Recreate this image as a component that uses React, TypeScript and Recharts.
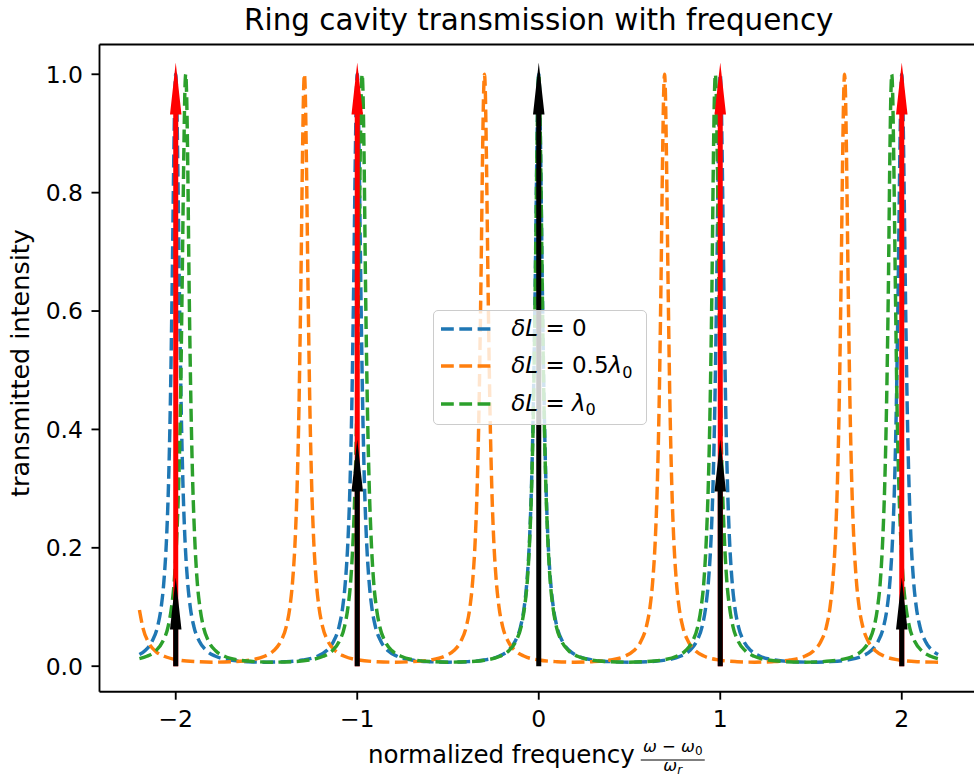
import {
  LineChart,
  Line,
  XAxis,
  YAxis,
  Legend,
  ReferenceLine,
} from "recharts";

type Pt = [number, number];

// delta L = 0  (peaks on the integers)
const shiftZero: Pt[] = [
  [-2.2, 0.0196], [-2.17, 0.026], [-2.13, 0.042], [-2.1, 0.067], [-2.08, 0.1], [-2.065, 0.144], [-2.05, 0.22], [-2.04, 0.305], [-2.03, 0.438], [-2.02, 0.636], [-2.01, 0.875], [-2.005, 0.966], [-2, 1],
  [-1.995, 0.966], [-1.99, 0.875], [-1.98, 0.636], [-1.97, 0.438], [-1.96, 0.305], [-1.95, 0.22], [-1.935, 0.144], [-1.92, 0.1], [-1.9, 0.067], [-1.87, 0.042], [-1.83, 0.026], [-1.78, 0.0167], [-1.7, 0.0104], [-1.6, 0.0076], [-1.5, 0.0068],
  [-1.4, 0.0076], [-1.3, 0.0104], [-1.22, 0.0167], [-1.17, 0.026], [-1.13, 0.042], [-1.1, 0.067], [-1.08, 0.1], [-1.065, 0.144], [-1.05, 0.22], [-1.04, 0.305], [-1.03, 0.438], [-1.02, 0.636], [-1.01, 0.875], [-1.005, 0.966], [-1, 1],
  [-0.995, 0.966], [-0.99, 0.875], [-0.98, 0.636], [-0.97, 0.438], [-0.96, 0.305], [-0.95, 0.22], [-0.935, 0.144], [-0.92, 0.1], [-0.9, 0.067], [-0.87, 0.042], [-0.83, 0.026], [-0.78, 0.0167], [-0.7, 0.0104], [-0.6, 0.0076], [-0.5, 0.0068],
  [-0.4, 0.0076], [-0.3, 0.0104], [-0.22, 0.0167], [-0.17, 0.026], [-0.13, 0.042], [-0.1, 0.067], [-0.08, 0.1], [-0.065, 0.144], [-0.05, 0.22], [-0.04, 0.305], [-0.03, 0.438], [-0.02, 0.636], [-0.01, 0.875], [-0.005, 0.966], [0, 1],
  [0.005, 0.966], [0.01, 0.875], [0.02, 0.636], [0.03, 0.438], [0.04, 0.305], [0.05, 0.22], [0.065, 0.144], [0.08, 0.1], [0.1, 0.067], [0.13, 0.042], [0.17, 0.026], [0.22, 0.0167], [0.3, 0.0104], [0.4, 0.0076], [0.5, 0.0068],
  [0.6, 0.0076], [0.7, 0.0104], [0.78, 0.0167], [0.83, 0.026], [0.87, 0.042], [0.9, 0.067], [0.92, 0.1], [0.935, 0.144], [0.95, 0.22], [0.96, 0.305], [0.97, 0.438], [0.98, 0.636], [0.99, 0.875], [0.995, 0.966], [1, 1],
  [1.005, 0.966], [1.01, 0.875], [1.02, 0.636], [1.03, 0.438], [1.04, 0.305], [1.05, 0.22], [1.065, 0.144], [1.08, 0.1], [1.1, 0.067], [1.13, 0.042], [1.17, 0.026], [1.22, 0.0167], [1.3, 0.0104], [1.4, 0.0076], [1.5, 0.0068],
  [1.6, 0.0076], [1.7, 0.0104], [1.78, 0.0167], [1.83, 0.026], [1.87, 0.042], [1.9, 0.067], [1.92, 0.1], [1.935, 0.144], [1.95, 0.22], [1.96, 0.305], [1.97, 0.438], [1.98, 0.636], [1.99, 0.875], [1.995, 0.966], [2, 1],
  [2.005, 0.966], [2.01, 0.875], [2.02, 0.636], [2.03, 0.438], [2.04, 0.305], [2.05, 0.22], [2.065, 0.144], [2.08, 0.1], [2.1, 0.067], [2.13, 0.042], [2.17, 0.026], [2.2, 0.0196],
];

// delta L = 0.5 lambda0
const shiftHalf: Pt[] = [
  [-2.2, 0.095], [-2.18, 0.064], [-2.15, 0.04], [-2.11, 0.025], [-2.06, 0.0163], [-1.99, 0.0107], [-1.89, 0.0077], [-1.787, 0.0068],
  [-1.691, 0.0076], [-1.591, 0.0104], [-1.511, 0.0167], [-1.461, 0.026], [-1.421, 0.042], [-1.391, 0.067], [-1.371, 0.1], [-1.356, 0.144], [-1.341, 0.22], [-1.331, 0.305], [-1.321, 0.438], [-1.311, 0.636], [-1.301, 0.875], [-1.296, 0.966], [-1.291, 1],
  [-1.286, 0.966], [-1.281, 0.875], [-1.271, 0.636], [-1.261, 0.438], [-1.251, 0.305], [-1.241, 0.22], [-1.226, 0.144], [-1.211, 0.1], [-1.191, 0.067], [-1.161, 0.042], [-1.121, 0.026], [-1.071, 0.0167], [-0.991, 0.0104], [-0.891, 0.0076], [-0.795, 0.0068],
  [-0.699, 0.0076], [-0.599, 0.0104], [-0.519, 0.0167], [-0.469, 0.026], [-0.429, 0.042], [-0.399, 0.067], [-0.379, 0.1], [-0.364, 0.144], [-0.349, 0.22], [-0.339, 0.305], [-0.329, 0.438], [-0.319, 0.636], [-0.309, 0.875], [-0.304, 0.966], [-0.299, 1],
  [-0.294, 0.966], [-0.289, 0.875], [-0.279, 0.636], [-0.269, 0.438], [-0.259, 0.305], [-0.249, 0.22], [-0.234, 0.144], [-0.219, 0.1], [-0.199, 0.067], [-0.169, 0.042], [-0.129, 0.026], [-0.079, 0.0167], [0.001, 0.0104], [0.101, 0.0076], [0.197, 0.0068],
  [0.293, 0.0076], [0.393, 0.0104], [0.473, 0.0167], [0.523, 0.026], [0.563, 0.042], [0.593, 0.067], [0.613, 0.1], [0.628, 0.144], [0.643, 0.22], [0.653, 0.305], [0.663, 0.438], [0.673, 0.636], [0.683, 0.875], [0.688, 0.966], [0.693, 1],
  [0.698, 0.966], [0.703, 0.875], [0.713, 0.636], [0.723, 0.438], [0.733, 0.305], [0.743, 0.22], [0.758, 0.144], [0.773, 0.1], [0.793, 0.067], [0.823, 0.042], [0.863, 0.026], [0.913, 0.0167], [0.993, 0.0104], [1.093, 0.0076], [1.189, 0.0068],
  [1.285, 0.0076], [1.385, 0.0104], [1.465, 0.0167], [1.515, 0.026], [1.555, 0.042], [1.585, 0.067], [1.605, 0.1], [1.62, 0.144], [1.635, 0.22], [1.645, 0.305], [1.655, 0.438], [1.665, 0.636], [1.675, 0.875], [1.68, 0.966], [1.685, 1],
  [1.69, 0.966], [1.695, 0.875], [1.705, 0.636], [1.715, 0.438], [1.725, 0.305], [1.735, 0.22], [1.75, 0.144], [1.765, 0.1], [1.785, 0.067], [1.815, 0.042], [1.855, 0.026], [1.905, 0.0167], [1.985, 0.0104], [2.085, 0.0076], [2.2, 0.0068],
];

// delta L = lambda0
const shiftFull: Pt[] = [
  [-2.2, 0.0127], [-2.159, 0.0167], [-2.11, 0.026], [-2.071, 0.042], [-2.042, 0.067], [-2.023, 0.1], [-2.008, 0.144], [-1.994, 0.22], [-1.984, 0.305], [-1.974, 0.438], [-1.965, 0.636], [-1.955, 0.875], [-1.95, 0.966], [-1.945, 1],
  [-1.94, 0.966], [-1.935, 0.875], [-1.926, 0.636], [-1.916, 0.438], [-1.906, 0.305], [-1.896, 0.22], [-1.882, 0.144], [-1.867, 0.1], [-1.848, 0.067], [-1.819, 0.042], [-1.78, 0.026], [-1.731, 0.0167], [-1.653, 0.0104], [-1.556, 0.0076], [-1.459, 0.0068],
  [-1.362, 0.0076], [-1.265, 0.0104], [-1.187, 0.0167], [-1.138, 0.026], [-1.099, 0.042], [-1.07, 0.067], [-1.051, 0.1], [-1.036, 0.144], [-1.022, 0.22], [-1.012, 0.305], [-1.002, 0.438], [-0.993, 0.636], [-0.983, 0.875], [-0.978, 0.966], [-0.973, 1],
  [-0.968, 0.966], [-0.963, 0.875], [-0.954, 0.636], [-0.944, 0.438], [-0.934, 0.305], [-0.924, 0.22], [-0.91, 0.144], [-0.895, 0.1], [-0.876, 0.067], [-0.847, 0.042], [-0.808, 0.026], [-0.759, 0.0167], [-0.681, 0.0104], [-0.584, 0.0076], [-0.486, 0.0068],
  [-0.389, 0.0076], [-0.292, 0.0104], [-0.214, 0.0167], [-0.165, 0.026], [-0.126, 0.042], [-0.097, 0.067], [-0.078, 0.1], [-0.063, 0.144], [-0.049, 0.22], [-0.039, 0.305], [-0.029, 0.438], [-0.0195, 0.636], [-0.0097, 0.875], [-0.0049, 0.966], [0, 1],
  [0.0049, 0.966], [0.0097, 0.875], [0.0195, 0.636], [0.029, 0.438], [0.039, 0.305], [0.049, 0.22], [0.063, 0.144], [0.078, 0.1], [0.097, 0.067], [0.126, 0.042], [0.165, 0.026], [0.214, 0.0167], [0.292, 0.0104], [0.389, 0.0076], [0.486, 0.0068],
  [0.584, 0.0076], [0.681, 0.0104], [0.759, 0.0167], [0.808, 0.026], [0.847, 0.042], [0.876, 0.067], [0.895, 0.1], [0.91, 0.144], [0.924, 0.22], [0.934, 0.305], [0.944, 0.438], [0.954, 0.636], [0.963, 0.875], [0.968, 0.966], [0.973, 1],
  [0.978, 0.966], [0.983, 0.875], [0.993, 0.636], [1.002, 0.438], [1.012, 0.305], [1.022, 0.22], [1.036, 0.144], [1.051, 0.1], [1.07, 0.067], [1.099, 0.042], [1.138, 0.026], [1.187, 0.0167], [1.265, 0.0104], [1.362, 0.0076], [1.459, 0.0068],
  [1.556, 0.0076], [1.653, 0.0104], [1.731, 0.0167], [1.78, 0.026], [1.819, 0.042], [1.848, 0.067], [1.867, 0.1], [1.882, 0.144], [1.896, 0.22], [1.906, 0.305], [1.916, 0.438], [1.926, 0.636], [1.935, 0.875], [1.94, 0.966], [1.945, 1],
  [1.95, 0.966], [1.955, 0.875], [1.965, 0.636], [1.974, 0.438], [1.984, 0.305], [1.994, 0.22], [2.008, 0.144], [2.023, 0.1], [2.042, 0.067], [2.071, 0.042], [2.11, 0.026], [2.159, 0.0167], [2.2, 0.0127],
];

// arrows: position and tip height
const redArrowX = [-2, -1, 1, 2];
const redArrowTop = [1.02, 1.02, 1.02, 1.02];
const blackArrowX = [-2, -1, 0, 1, 2];
const blackArrowTop = [0.15, 0.383, 1.02, 0.383, 0.15];

const xTicks = [-2, -1, 0, 1, 2];
const yTicks = [0, 0.2, 0.4, 0.6, 0.8, 1.0];

const SERIES = [
  { key: "zero", data: shiftZero, color: "#1f77b4" },
  { key: "half", data: shiftHalf, color: "#ff7f0e" },
  { key: "full", data: shiftFull, color: "#2ca02c" },
];

const FONT = "DejaVu Sans";
const DASH = "12.8 5.5";

const toRows = (pts: Pt[]) => pts.map(([x, y]) => ({ x, y }));

const arrowShape = (color: string) => (props: any) => {
  const { x1, y1, y2 } = props;
  const head = 52;
  const hw = 5.75;
  const sw = 2.5;
  const d = `M${x1 - sw},${y1} L${x1 - sw},${y2 + head} L${x1 - hw},${y2 + head} L${x1},${y2} L${x1 + hw},${y2 + head} L${x1 + sw},${y2 + head} L${x1 + sw},${y1} Z`;
  return <path d={d} fill={color} stroke="none" />;
};

const sub = { fontSize: "0.7em", position: "relative" as const, top: "0.3em" };

const legendLabels = [
  <span><i>δL</i> = 0</span>,
  <span><i>δL</i> = 0.5<i>λ</i><span style={sub}>0</span></span>,
  <span><i>δL</i> = <i>λ</i><span style={sub}>0</span></span>,
];

function LegendBox() {
  return (
    <div
      style={{
        boxSizing: "border-box",
        position: "relative",
        width: 214,
        height: 115,
        border: "1.8px solid #cccccc",
        borderRadius: 5,
        background: "rgba(255,255,255,0.8)",
        fontFamily: FONT,
        fontSize: 23,
        color: "#000",
      }}
    >
      {SERIES.map((s, i) => (
        <div
          key={s.key}
          style={{
            position: "absolute",
            left: 0,
            top: i * 37.5 - 1.5,
            height: 37.5,
            lineHeight: "37.5px",
            width: "100%",
            whiteSpace: "nowrap",
          }}
        >
          <svg
            width={50}
            height={10}
            style={{ position: "absolute", left: 7.5, top: 14 }}
          >
            <line
              x1={0}
              x2={50}
              y1={5}
              y2={5}
              stroke={s.color}
              strokeWidth={3.45}
              strokeDasharray={DASH}
            />
          </svg>
          <div style={{ position: "absolute", left: 77.5, top: 0 }}>
            {legendLabels[i]}
          </div>
        </div>
      ))}
    </div>
  );
}

const TitleLabel = (props: any) => {
  const vb = props.viewBox;
  return (
    <text
      x={vb.x + vb.width / 2}
      y={30}
      textAnchor="middle"
      fontFamily={FONT}
      fontSize={29.4}
      fill="#000"
    >
      Ring cavity transmission with frequency
    </text>
  );
};

const XLabel = (props: any) => {
  const vb = props.viewBox;
  const cx = vb.x + vb.width / 2;
  const top = vb.y;
  const fx = cx + 134;
  return (
    <g fontFamily={FONT} fill="#000">
      <text x={cx + 96} y={top + 71.3} textAnchor="end" fontSize={24.5}>
        normalized frequency
      </text>
      <text x={fx} y={top + 60} textAnchor="middle" fontSize={16.5}>
        <tspan fontStyle="italic">ω</tspan>
        <tspan> − </tspan>
        <tspan fontStyle="italic">ω</tspan>
        <tspan fontSize={12} dy={3}>0</tspan>
      </text>
      <line
        x1={fx - 32}
        x2={fx + 32}
        y1={top + 68.3}
        y2={top + 68.3}
        stroke="#000"
        strokeWidth={1.2}
      />
      <text x={fx} y={top + 79} textAnchor="middle" fontSize={16.5}>
        <tspan fontStyle="italic">ω</tspan>
        <tspan fontStyle="italic" fontSize={12} dy={3}>r</tspan>
      </text>
    </g>
  );
};

const YLabel = (props: any) => {
  const vb = props.viewBox;
  const cy = vb.y + vb.height / 2;
  return (
    <text
      transform={`translate(29,${cy - 5}) rotate(-90)`}
      textAnchor="middle"
      fontFamily={FONT}
      fontSize={25.5}
      fill="#000"
    >
      transmitted intensity
    </text>
  );
};

const axisStyle = { stroke: "#000", strokeWidth: 1.85 };
const tickStyle = { fontSize: 23.5, fill: "#000", fontFamily: FONT };

export default function App() {
  return (
    <div
      style={{
        position: "absolute",
        left: 0,
        top: 0,
        width: 974,
        height: 778,
        overflow: "hidden",
        background: "#fff",
      }}
    >
      <LineChart
        width={990}
        height={778}
        margin={{ top: 0, right: 12, bottom: 0, left: 0 }}
      >
        <XAxis
          xAxisId="top"
          orientation="top"
          type="number"
          domain={[-2.42, 2.42]}
          allowDataOverflow
          height={44.5}
          tick={false}
          tickLine={false}
          axisLine={axisStyle}
          label={<TitleLabel />}
        />
        <XAxis
          dataKey="x"
          type="number"
          domain={[-2.42, 2.42]}
          allowDataOverflow
          ticks={xTicks}
          tickFormatter={(v: number) => (v < 0 ? `\u2212${Math.abs(v)}` : `${v}`)}
          height={86.3}
          tickSize={8}
          tickMargin={10.5}
          tick={tickStyle}
          tickLine={axisStyle}
          axisLine={axisStyle}
          label={<XLabel />}
        />
        <YAxis
          type="number"
          domain={[-0.0431, 1.0503]}
          allowDataOverflow
          ticks={yTicks}
          tickFormatter={(v: number) => v.toFixed(1)}
          width={99.5}
          tickSize={8}
          tickMargin={8.5}
          tick={tickStyle}
          tickLine={axisStyle}
          axisLine={axisStyle}
          label={<YLabel />}
        />
        {SERIES.map((s) => (
          <Line
            key={s.key}
            data={toRows(s.data)}
            dataKey="y"
            type="monotone"
            stroke={s.color}
            strokeWidth={3.45}
            strokeDasharray={DASH}
            dot={false}
            activeDot={false}
            isAnimationActive={false}
          />
        ))}
        {redArrowX.map((x, i) => (
          <ReferenceLine
            key={`r${x}`}
            segment={[{ x, y: 0 }, { x, y: redArrowTop[i] }]}
            ifOverflow="visible"
            shape={arrowShape("#ff0000")}
          />
        ))}
        {blackArrowX.map((x, i) => (
          <ReferenceLine
            key={`b${x}`}
            segment={[{ x, y: 0 }, { x, y: blackArrowTop[i] }]}
            ifOverflow="visible"
            shape={arrowShape("#000000")}
          />
        ))}
        <Legend
          layout="horizontal"
          verticalAlign="middle"
          align="center"
          content={() => <LegendBox />}
          wrapperStyle={{ left: 432.7, top: 310, width: 214, height: 115 }}
        />
      </LineChart>
    </div>
  );
}
